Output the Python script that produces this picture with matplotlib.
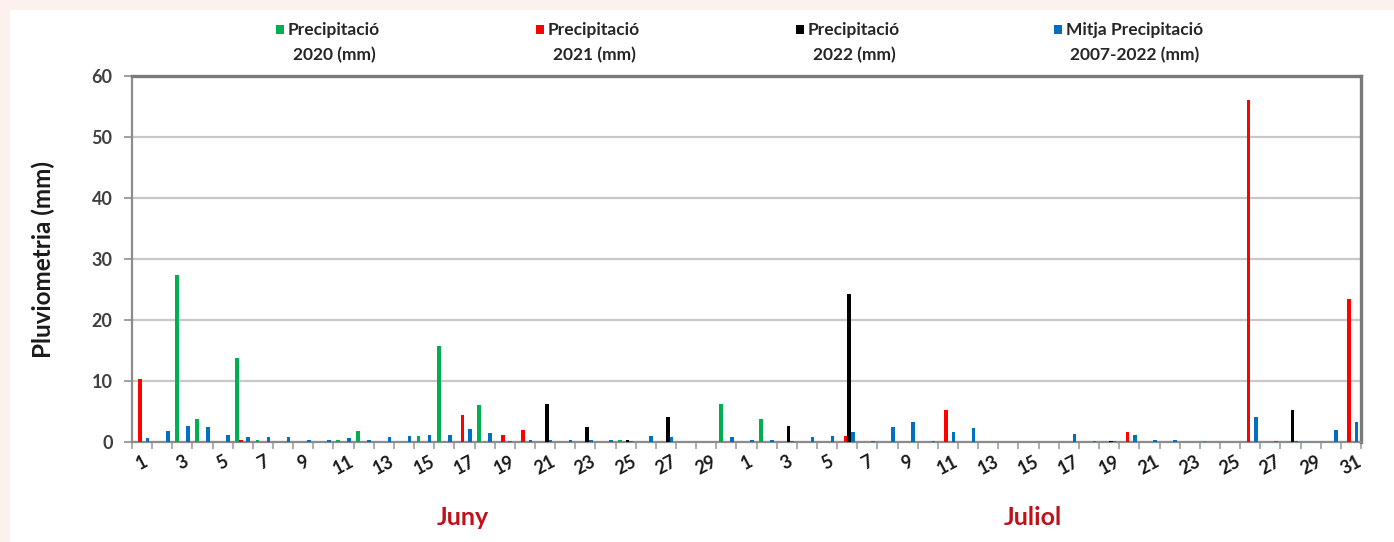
import matplotlib
matplotlib.use("Agg")
import matplotlib.pyplot as plt
from matplotlib.patches import Rectangle
import numpy as np

days_june = list(range(1, 31))
days_july = list(range(1, 32))
day_labels = [str(d) for d in days_june + days_july]

series_names = ["Precipitació\n2020 (mm)", "Precipitació\n2021 (mm)",
                "Precipitació\n2022 (mm)", "Mitja Precipitació\n2007-2022 (mm)"]
series_colors = ["#00b050", "#ff0000", "#000000", "#0070c0"]

prec_2020 = [0, 0, 27.4, 3.7, 0, 13.8, 0.4, 0, 0, 0,
             0.3, 1.8, 0, 0, 1.0, 15.7, 0, 6.1, 0, 0,
             0, 0, 0, 0, 0.4, 0, 0, 0, 0, 6.3,
             0, 3.7, 0, 0, 0, 0, 0, 0, 0, 0,
             0, 0, 0, 0, 0, 0, 0, 0, 0, 0,
             0, 0, 0, 0.2, 0, 0, 0, 0, 0, 0, 0]
prec_2021 = [10.4, 0, 0, 0, 0, 0.3, 0, 0, 0, 0,
             0, 0, 0, 0, 0, 0, 4.5, 0, 1.1, 1.9,
             0, 0, 0, 0, 0, 0, 0, 0, 0, 0,
             0, 0, 0, 0, 0, 1.0, 0, 0, 0, 0,
             5.3, 0, 0, 0, 0, 0, 0, 0, 0, 1.6,
             0, 0, 0, 0, 0, 56.0, 0, 0, 0, 0, 23.4]
prec_2022 = [0, 0, 0, 0, 0, 0, 0, 0, 0, 0,
             0, 0, 0, 0, 0, 0, 0, 0, 0, 0,
             6.2, 0, 2.5, 0, 0.3, 0, 4.1, 0, 0, 0,
             0, 0, 2.6, 0, 0, 24.2, 0, 0, 0, 0,
             0, 0, 0, 0, 0, 0, 0, 0, 0.2, 0,
             0, 0, 0, 0, 0, 0, 0, 5.3, 0, 0, 0]
prec_mean = [0.7, 1.8, 2.6, 2.5, 1.2, 0.9, 0.8, 0.8, 0.3, 0.4,
             0.7, 0.4, 0.9, 1.0, 1.2, 1.15, 2.2, 1.5, 0.1, 0.3,
             0.4, 0.4, 0.4, 0.3, 0.1, 1.0, 0.9, 0, 0, 0.9,
             0.4, 0.4, 0.1, 0.8, 1.0, 1.6, 0.1, 2.5, 3.3, 0.1,
             1.6, 2.3, 0, 0, 0, 0, 1.3, 0.2, 0.2, 1.1,
             0.3, 0.3, 0, 0, 0, 4.1, 0.1, 0.2, 0, 1.9, 3.2]

series = [prec_2020, prec_2021, prec_2022, prec_mean]
months = ["Juny", "Juliol"]

plt.rcParams['font.family'] = ['Lato', 'DejaVu Sans']

W, H = 1394, 542
fig = plt.figure(figsize=(W / 100, H / 100), dpi=100)
fig.patch.set_facecolor("#fcf1ec")
# white panel (behind everything)
fig.patches.append(Rectangle((10 / W, 0), 1, 1 - 10 / H, transform=fig.transFigure,
                             facecolor="white", edgecolor="none", zorder=-5))

ax = fig.add_axes([132 / W, 100 / H, (1361 - 132) / W, (442 - 76) / H])
ax.set_facecolor("white")

n = len(day_labels)
x = np.arange(n)
step = 0.182
width = 0.18
for i, (vals, col) in enumerate(zip(series, series_colors)):
    ax.bar(x + (i - 1.5) * step, vals, width=width, color=col, zorder=3, linewidth=0)

ax.set_xlim(-0.5, n - 0.5)
ax.set_ylim(0, 60)
ax.set_yticks(np.arange(0, 61, 10))
ax.yaxis.grid(True, color="#c8c8c8", linewidth=1.6, zorder=0)
ax.set_axisbelow(True)

# x ticks: labels on odd days, tick marks at category boundaries
label_pos = [i for i in range(n) if int(day_labels[i]) % 2 == 1]
ax.set_xticks(label_pos)
ax.set_xticklabels([day_labels[i] for i in label_pos], rotation=28,
                   fontsize=13, fontweight="bold", color="#1a1a1a",
                   ha="center", va="top")
ax.tick_params(axis="x", which="major", length=0, pad=8)
ax.set_xticks(np.arange(-0.5, n, 1), minor=True)
ax.tick_params(axis="x", which="minor", length=5, width=1.2, color="#a0a0a0",
               direction="out")
ax.tick_params(axis="y", length=6, width=1.2, color="#909090", pad=8,
               labelsize=13, labelcolor="#404040")
for lbl in ax.get_yticklabels():
    lbl.set_fontweight("bold")

for side in ["top", "right"]:
    ax.spines[side].set_color("#7a7a7a")
    ax.spines[side].set_linewidth(2.4)
for side in ["left", "bottom"]:
    ax.spines[side].set_color("#8c8c8c")
    ax.spines[side].set_linewidth(1.6)

ax.set_ylabel("Pluviometria (mm)", fontsize=17.5, fontweight="bold", color="#1a1a1a",
              labelpad=26)

# month labels (placed under the category axis)
month_x = [15.9, 44.2]
for m, c in zip(months, month_x):
    ax.text(c, -0.205, m, transform=ax.get_xaxis_transform(), ha="center",
            va="center", fontsize=18, fontweight="bold", color="#c0101a")

# legend (manual, two-line labels)
leg_x = [280, 540, 800, 1058]
for xpos, name, col in zip(leg_x, series_names, series_colors):
    first, second = name.split("\n")
    fig.patches.append(Rectangle(((xpos - 4) / W, 1 - 34 / H), 8 / W, 9 / H,
                                 transform=fig.transFigure, facecolor=col,
                                 edgecolor="none", zorder=5))
    t1 = fig.text((xpos + 8) / W, 1 - 30 / H, first, ha="left", va="center",
                  fontsize=12.5, fontweight="bold", color="#262626")
    fig.canvas.draw()
    bb = t1.get_window_extent()
    cx = (bb.x0 + bb.x1) / 2 / W
    fig.text(cx, 1 - 55 / H, second, ha="center", va="center",
             fontsize=12.5, fontweight="bold", color="#262626")

fig.savefig("out.png", dpi=100, facecolor=fig.get_facecolor())
